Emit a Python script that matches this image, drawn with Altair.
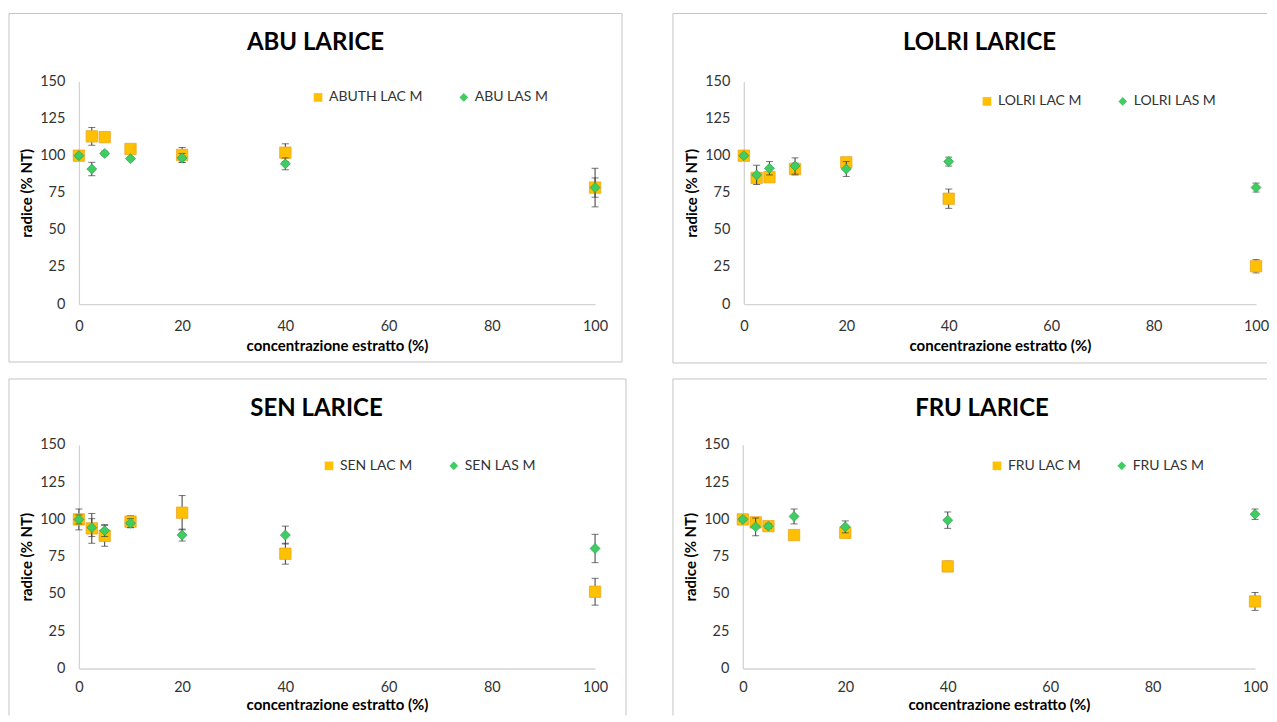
import altair as alt
import pandas as pd

# ---------------- data ----------------
X = [0, 2.5, 5, 10, 20, 40, 100]

TITLES = ["ABU LARICE", "LOLRI LARICE", "SEN LARICE", "FRU LARICE"]
LAC_NAMES = ["ABUTH LAC M", "LOLRI LAC M", "SEN LAC M", "FRU LAC M"]
LAS_NAMES = ["ABU LAS M", "LOLRI LAS M", "SEN LAS M", "FRU LAS M"]

abu_lac = [100, 113, 112.5, 104.5, 100.5, 102, 78.5]
abu_lac_err = [1, 6, 1.5, 3, 5, 6, 13]
abu_las = [100, 91, 101.5, 98, 98.5, 94.5, 78.5]
abu_las_err = [1, 4.5, 1.5, 1, 3, 4, 6.5]

lolri_lac = [100, 85, 85.5, 91, 95.5, 71, 25.5]
lolri_lac_err = [1, 3, 3, 4, 2, 6.5, 4.5]
lolri_las = [100, 87, 91.5, 93, 91, 96, 78.5]
lolri_las_err = [1, 6.5, 4.5, 5.5, 5, 3, 3]

sen_lac = [100, 94, 89, 98.5, 104.5, 77, 51.5]
sen_lac_err = [7, 10, 7, 4, 11.5, 7, 9]
sen_las = [100, 94.5, 92.5, 97.5, 89.5, 89.5, 80.5]
sen_las_err = [3, 6, 4, 3, 4, 6, 9.5]

fru_lac = [100, 98, 95.5, 89.5, 91, 68.5, 45]
fru_lac_err = [1, 3, 1.5, 1, 1.5, 3.5, 6]
fru_las = [100, 95, 95.5, 102, 95, 99.5, 103.5]
fru_las_err = [1, 6, 1.5, 5, 4, 5.5, 3.5]

X_TICKS = [0, 20, 40, 60, 80, 100]
Y_TICKS = [0, 25, 50, 75, 100, 125, 150]
X_TITLE = "concentrazione estratto (%)"
Y_TITLE = "radice (% NT)"

# ---------------- style ----------------
FONT = "Lato"
ORANGE = "#FFC000"
ORANGE_EDGE = "#E8A020"
GREEN = "#3FCC60"
GREEN_EDGE = "#2E9E50"
ERR = "#3A3A3A"
BORDER = "#C4C4C4"
AXIS = "#D4D4D4"

one = pd.DataFrame({"k": [0]})


def seg(x1, x2, y1, y2):
    return alt.Chart(one).mark_rule(color=BORDER, strokeWidth=1).encode(
        x=alt.value(x1), x2=alt.value(x2), y=alt.value(y1), y2=alt.value(y2)
    )


def legend_def(lpos):
    return alt.Legend(
        orient="none", legendX=lpos[0], legendY=lpos[1], direction="horizontal",
        labelFont=FONT, labelFontSize=14, labelColor="#333333",
        symbolSize=75, columnPadding=34, padding=0, labelOffset=4,
        symbolStrokeWidth=0,
    )


def panel(i, lac, lac_e, las, las_e, w, h, segs, tpos, lpos, xlabpad, xtitpad):
    lac_name, las_name = LAC_NAMES[i], LAS_NAMES[i]
    df = pd.DataFrame({
        "conc": X * 2,
        "val": lac + las,
        "err": lac_e + las_e,
        "serie": [lac_name] * len(X) + [las_name] * len(X),
    })
    xsc = alt.Scale(domain=[0, 100], nice=False)
    ysc = alt.Scale(domain=[0, 150], nice=False)
    xax = alt.Axis(values=X_TICKS, title=X_TITLE, labelFlush=False,
                   labelPadding=xlabpad, titlePadding=xtitpad)
    yax = alt.Axis(values=Y_TICKS, title=Y_TITLE)

    def xenc():
        return alt.X("conc:Q", scale=xsc, axis=xax, title=X_TITLE)

    def yenc(f):
        return alt.Y(f + ":Q", scale=ysc, axis=yax, title=Y_TITLE)

    base = alt.Chart(df).transform_calculate(
        lo="datum.val - datum.err", hi="datum.val + datum.err"
    )
    dom = [lac_name, las_name]
    color = alt.Color(
        "serie:N", scale=alt.Scale(domain=dom, range=[ORANGE, GREEN]),
        title=None, legend=legend_def(lpos),
    )
    shape = alt.Shape(
        "serie:N", scale=alt.Scale(domain=dom, range=["square", "diamond"]),
        title=None, legend=legend_def(lpos),
    )

    layers = [seg(*s) for s in segs]
    layers.append(
        alt.Chart(one).mark_text(
            text=TITLES[i], font=FONT, fontSize=24, fontWeight="bold",
            align="center", baseline="middle", color="#000000",
        ).encode(x=alt.value(tpos[0]), y=alt.value(tpos[1]))
    )

    for name, size, edge in [(lac_name, 130, ORANGE_EDGE), (las_name, 100, GREEN_EDGE)]:
        b = base.transform_filter(alt.datum.serie == name)
        layers.append(
            b.mark_rule(color=ERR, strokeWidth=1).encode(
                x=xenc(), y=yenc("lo"), y2="hi:Q"
            )
        )
        for f in ["lo", "hi"]:
            layers.append(
                b.mark_tick(orient="horizontal", size=7, thickness=1, color=ERR).encode(
                    x=xenc(), y=yenc(f)
                )
            )
        layers.append(
            b.mark_point(filled=True, opacity=1, size=size, stroke=edge, strokeWidth=0.7).encode(
                x=xenc(), y=yenc("val"), color=color, shape=shape
            )
        )
    return alt.layer(*layers).properties(width=w, height=h)


p1 = panel(0, abu_lac, abu_lac_err, abu_las, abu_las_err, 517, 223,
           [(-70, 544, -68, -68), (-70, 544, 281, 281), (-70, -70, -68, 281), (544, 544, -68, 281)],
           (237, -38), (232.5, 9), 15, 6)
p2 = panel(1, lolri_lac, lolri_lac_err, lolri_las, lolri_las_err, 513, 223,
           [(-71, 524, -68, -68), (-71, 524, 282, 282), (-71, -71, -68, 282)],
           (236, -38), (236.5, 13), 15, 6)
p3 = panel(2, sen_lac, sen_lac_err, sen_las, sen_las_err, 517, 224,
           [(-70, 548, -66, -66), (-70, -70, -66, 271), (548, 548, -66, 271)],
           (238, -36), (243.5, 14), 12, 4)
p4 = panel(3, fru_lac, fru_lac_err, fru_las, fru_las_err, 513, 224,
           [(-70, 525, -66, -66), (-70, -70, -66, 271)],
           (239.5, -36), (247.5, 14), 12, 4)

row1 = alt.hconcat(p1, p2, spacing=49).resolve_scale(color="independent", shape="independent").resolve_legend(color="independent", shape="independent")
row2 = alt.hconcat(p3, p4, spacing=45).resolve_scale(color="independent", shape="independent").resolve_legend(color="independent", shape="independent")

chart = (
    alt.vconcat(row1, row2, spacing=14)
    .resolve_scale(color="independent", shape="independent")
    .resolve_legend(color="independent", shape="independent")
    .properties(padding={"left": 0, "top": 4, "right": 0, "bottom": 0}, background="white")
    .configure_view(stroke=None)
    .configure_axis(
        grid=False, ticks=False, tickSize=0, domainColor=AXIS, domainWidth=1.3,
        labelFont=FONT, labelFontSize=14.5, labelColor="#333333",
        titleFont=FONT, titleFontSize=15, titleFontWeight="bold", titleColor="#000000",
    )
    .configure_axisY(labelPadding=14, titlePadding=5)
)

chart.save("out.html", embed_options={"renderer": "svg", "actions": False})
